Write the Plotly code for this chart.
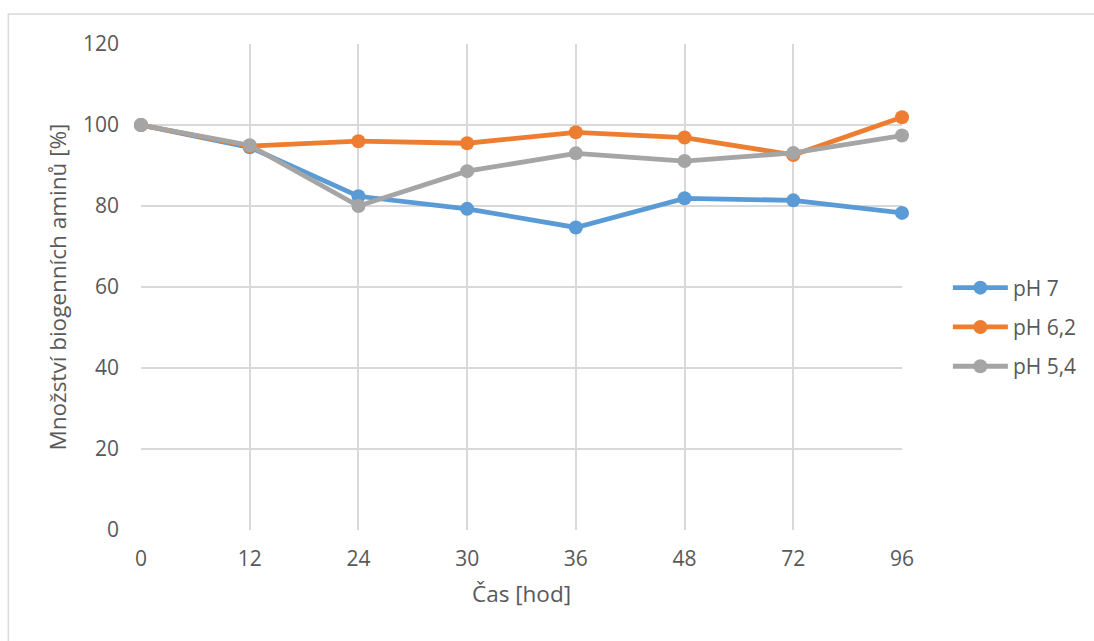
import plotly.graph_objects as go

# Sampling times [h] (categorical axis, evenly spaced)
cas_hod = ["0", "12", "24", "30", "36", "48", "72", "96"]

# Relative amount of biogenic amines [%]
ph_7 = [100.0, 94.5, 82.4, 79.3, 74.7, 81.9, 81.4, 78.3]
ph_6_2 = [100.0, 94.8, 96.0, 95.5, 98.2, 96.9, 92.6, 101.9]
ph_5_4 = [100.0, 95.0, 80.0, 88.6, 93.0, 91.1, 93.1, 97.4]

series_names = ["pH 7", "pH 6,2", "pH 5,4"]
series_values = [ph_7, ph_6_2, ph_5_4]
series_colors = ["#5B9BD5", "#ED7D31", "#A5A5A5"]

y_ticks = [0, 20, 40, 60, 80, 100, 120]

FONT = "Open Sans"
TEXT_COLOR = "#595959"
GRID = "#D9D9D9"
TICK_SIZE = 21
TITLE_SIZE = 22.5

fig = go.Figure()
for name, vals, col in zip(series_names, series_values, series_colors):
    fig.add_trace(go.Scatter(
        x=cas_hod, y=vals, name=name, mode="lines+markers",
        legendgroup=name, cliponaxis=False,
        line=dict(color=col, width=4.8),
        marker=dict(color=col, size=14),
    ))

W, H = 1094, 641
L, R, T, B = 141, 190, 44, 111
pw, ph = W - L - R, H - T - B

def px_x(x):
    return (x - L) / pw

def px_y(y):
    return (H - B - y) / ph

fig.update_layout(
    width=W, height=H,
    margin=dict(l=L, r=R, t=T, b=B),
    paper_bgcolor="white", plot_bgcolor="white",
    font=dict(family=FONT, color=TEXT_COLOR, size=TICK_SIZE),
    showlegend=True,
    legend=dict(
        x=px_x(950), xanchor="left",
        y=px_y(327), yanchor="middle",
        font=dict(size=TICK_SIZE, color=TEXT_COLOR),
        tracegroupgap=9,
        itemwidth=55,
        bgcolor="rgba(0,0,0,0)",
    ),
    xaxis=dict(
        type="category", categoryorder="array", categoryarray=cas_hod,
        range=[0, len(cas_hod) - 1],
        showgrid=True, gridcolor=GRID, gridwidth=1.5,
        showline=False, zeroline=False,
        ticks="", ticklabelstandoff=14,
        tickfont=dict(size=TICK_SIZE, color=TEXT_COLOR),
        title=dict(text="Čas [hod]", font=dict(size=TITLE_SIZE, color=TEXT_COLOR), standoff=15),
        fixedrange=True,
    ),
    yaxis=dict(
        range=[0, 120], tickvals=y_ticks,
        showgrid=True, gridcolor=GRID, gridwidth=1.5,
        showline=False, zeroline=False,
        ticks="", ticklabelstandoff=21,
        tickfont=dict(size=TICK_SIZE, color=TEXT_COLOR),
        title=dict(text="Množství biogenních aminů [%]",
                   font=dict(size=TITLE_SIZE, color=TEXT_COLOR), standoff=10),
        fixedrange=True,
    ),
    shapes=[
        # chart-area frame (left and top edges visible)
        dict(type="rect", xref="paper", yref="paper",
             x0=px_x(8), x1=px_x(1110), y0=px_y(660), y1=px_y(14),
             line=dict(color=GRID, width=1.5), fillcolor="rgba(0,0,0,0)",
             layer="below"),
    ],
)

fig.write_html("out.html", config={"displayModeBar": False})
